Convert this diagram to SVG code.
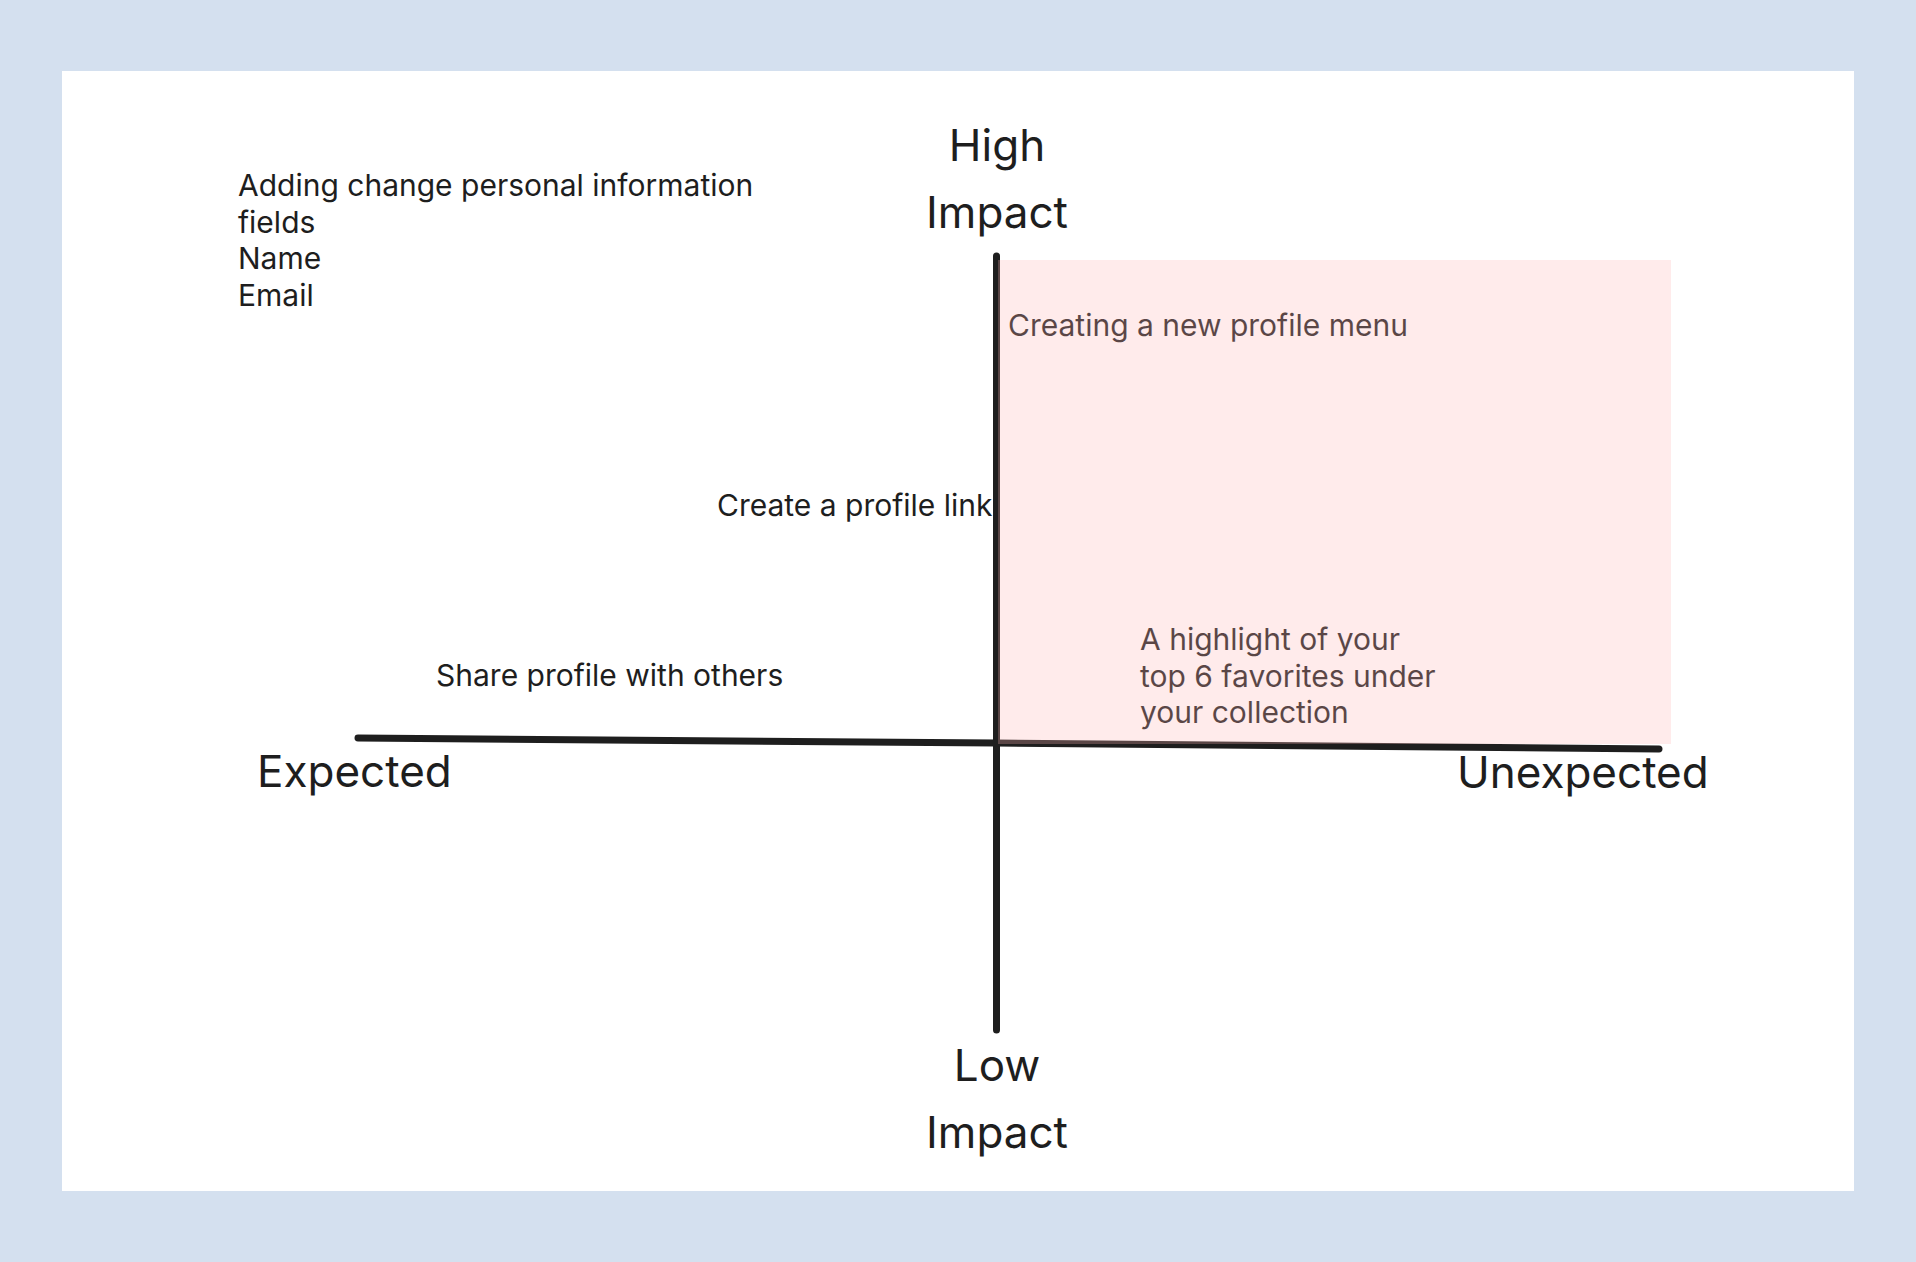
<svg xmlns="http://www.w3.org/2000/svg" width="1916" height="1262" viewBox="0 0 1916 1262">
  <style>
    .axis { fill: none; stroke: #1e1e1e; stroke-width: 7; stroke-linecap: round; }
    .big { font-family: Inter, "Noto Sans", "Liberation Sans", sans-serif; font-size: 44px; fill: #1e1e1e; }
    .note { font-family: Inter, "Noto Sans", "Liberation Sans", sans-serif; font-size: 30px; fill: #1e1e1e; }
    .mid { text-anchor: middle; }
  </style>
  <!-- page background and board -->
  <rect x="0" y="0" width="1916" height="1262" fill="#d4e0ef"/>
  <rect x="62" y="71" width="1792" height="1120" fill="#ffffff"/>

  <!-- axes -->
  <g id="connectors">
    <path class="axis" d="M996.5 256 L996.5 1030"/>
    <path class="axis" d="M358 738 L996 743 L1659 749"/>
  </g>

  <!-- axis labels -->
  <g id="label-high">
    <text class="big mid" x="997" y="161">High</text>
    <text class="big mid" x="997" y="228">Impact</text>
  </g>
  <g id="label-low">
    <text class="big mid" x="997" y="1081">Low</text>
    <text class="big mid" x="997" y="1148">Impact</text>
  </g>
  <g id="label-expected">
    <text class="big" x="257" y="787">Expected</text>
  </g>
  <g id="label-unexpected">
    <text class="big" x="1457" y="788">Unexpected</text>
  </g>

  <!-- idea notes -->
  <g id="note-personal-info">
    <text class="note" x="238" y="196">Adding change personal information</text>
    <text class="note" x="238" y="233">fields</text>
    <text class="note" x="238" y="269">Name</text>
    <text class="note" x="238" y="306">Email</text>
  </g>
  <g id="note-profile-link">
    <text class="note" x="717" y="516">Create a profile link</text>
  </g>
  <g id="note-share-profile">
    <text class="note" x="436" y="686">Share profile with others</text>
  </g>
  <g id="note-profile-menu">
    <text class="note" x="1008" y="336">Creating a new profile menu</text>
  </g>
  <g id="note-top-favorites">
    <text class="note" x="1140" y="650">A highlight of your</text>
    <text class="note" x="1140" y="687">top 6 favorites under</text>
    <text class="note" x="1140" y="723">your collection</text>
  </g>

  <!-- translucent highlight over the high-impact / unexpected quadrant -->
  <g id="quadrant-highlight">
    <rect x="998" y="260" width="673" height="484" fill="#ffb4b4" fill-opacity="0.27"/>
  </g>
</svg>
